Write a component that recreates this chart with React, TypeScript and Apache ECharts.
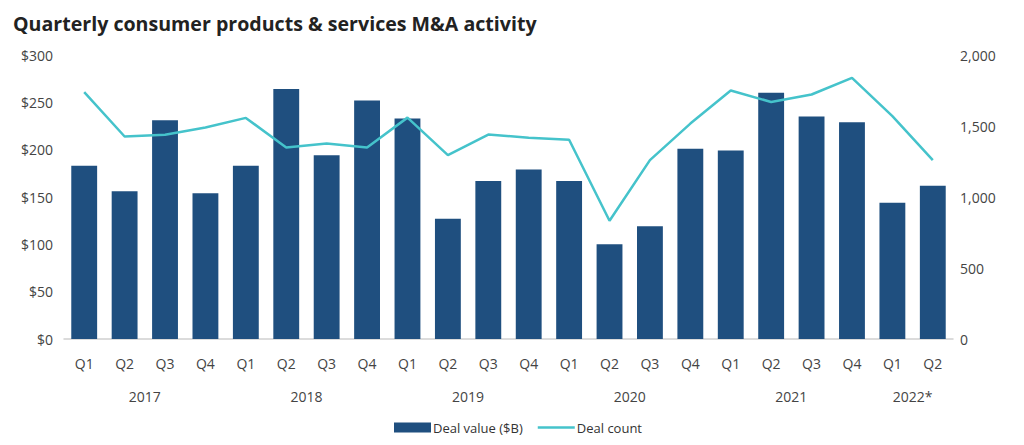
import React, { useEffect, useRef } from "react";
import * as echarts from "echarts";

const quarters = ["Q1","Q2","Q3","Q4","Q1","Q2","Q3","Q4","Q1","Q2","Q3","Q4","Q1","Q2","Q3","Q4","Q1","Q2","Q3","Q4","Q1","Q2"];
const years = ["2017", "2018", "2019", "2020", "2021", "2022*"];
const quartersPerYear = [4, 4, 4, 4, 4, 2];
const dealValue = [183,156,231,154,183,264,194,252,233,127,167,179,167,100,119,201,199,260,235,229,144,162];
const dealCount = [1739,1426,1438,1489,1557,1349,1377,1349,1559,1295,1440,1417,1403,833,1260,1517,1750,1669,1722,1839,1570,1260];
const leftTicks = { min: 0, max: 300, interval: 50 };
const rightTicks = { min: 0, max: 2000, interval: 500 };

const FONT = "'Open Sans', sans-serif";

export default function App() {
  const ref = useRef<HTMLDivElement>(null);
  useEffect(() => {
    if (!ref.current) return;
    const chart = echarts.init(ref.current, undefined, { renderer: "svg" });
    const centers: number[] = [];
    let start = 0;
    quartersPerYear.forEach((n) => {
      centers.push(start + (n - 1) / 2);
      start += n;
    });
    const yearAt = (v: number) => {
      const i = centers.findIndex((c) => Math.abs(c - v) < 1e-6);
      return i >= 0 ? years[i] : "";
    };
    chart.setOption({
      animation: false,
      textStyle: { fontFamily: FONT },
      title: {
        text: "Quarterly consumer products & services M&A activity",
        left: 8,
        top: 8,
        textStyle: { fontFamily: FONT, fontWeight: "bold", fontSize: 19.6, color: "#222" },
      },
      legend: {
        bottom: 6,
        left: 389,
        itemWidth: 37,
        itemHeight: 10,
        itemGap: 15,
        textStyle: { fontFamily: FONT, fontSize: 13, color: "#333", padding: [0, 0, 0, -3] },
        data: [
          { name: "Deal value ($B)", icon: "rect" },
          { name: "Deal count", icon: "path://M0,0 L37,0 L37,2.5 L0,2.5 Z" },
        ],
      },
      grid: { left: 64, right: 71, top: 55, bottom: 106 },
      xAxis: [
        {
          type: "category",
          data: quarters,
          axisLine: { lineStyle: { color: "#d0d0d0", width: 1.5 } },
          axisTick: { show: false },
          axisLabel: { interval: 0, color: "#444", fontSize: 14, margin: 17, fontFamily: FONT },
        },
        {
          type: "value",
          position: "bottom",
          min: -0.5,
          max: quarters.length - 0.5,
          interval: 0.5,
          axisLine: { show: false },
          axisTick: { show: false },
          splitLine: { show: false },
          axisLabel: {
            margin: 50,
            color: "#444",
            fontSize: 14,
            fontFamily: FONT,
            showMinLabel: true,
            showMaxLabel: true,
            formatter: (v: number) => yearAt(v),
          },
        },
      ],
      yAxis: [
        {
          type: "value",
          ...leftTicks,
          axisLine: { show: false },
          axisTick: { show: false },
          splitLine: { show: false },
          axisLabel: { color: "#444", fontSize: 14, margin: 11, fontFamily: FONT, formatter: (v: number) => "$" + v },
        },
        {
          type: "value",
          ...rightTicks,
          position: "right",
          axisLine: { show: false },
          axisTick: { show: false },
          splitLine: { show: false },
          axisLabel: {
            color: "#444",
            fontSize: 14,
            margin: 7,
            fontFamily: FONT,
            formatter: (v: number) => v.toLocaleString("en-US"),
          },
        },
      ],
      series: [
        {
          name: "Deal value ($B)",
          type: "bar",
          data: dealValue,
          xAxisIndex: 0,
          yAxisIndex: 0,
          barWidth: "64%",
          itemStyle: { color: "#1f4f7f" },
        },
        {
          name: "Deal count",
          type: "line",
          data: dealCount,
          xAxisIndex: 0,
          yAxisIndex: 1,
          symbol: "none",
          lineStyle: { color: "#45c3cb", width: 2.5 },
          itemStyle: { color: "#45c3cb" },
        },
      ],
    });
    return () => chart.dispose();
  }, []);
  return <div ref={ref} style={{ width: 1024, height: 445, position: "absolute", left: 0, top: 0 }} />;
}
